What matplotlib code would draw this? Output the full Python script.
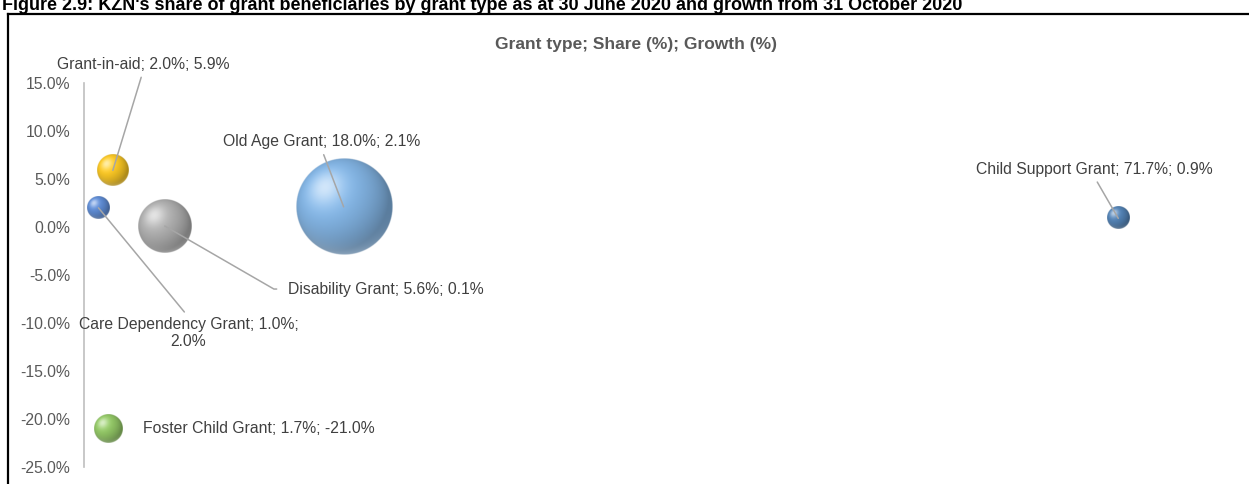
import matplotlib
matplotlib.use("Agg")
import matplotlib.pyplot as plt
import numpy as np
from matplotlib.lines import Line2D
from matplotlib.colors import to_rgb

plt.rcParams['font.family'] = ['Liberation Sans Narrow', 'Liberation Sans', 'DejaVu Sans']

# grant types, share of beneficiaries (%), growth (%), relative bubble size
grants = ["Grant-in-aid", "Care Dependency Grant", "Disability Grant",
          "Old Age Grant", "Child Support Grant", "Foster Child Grant"]
share = [2.0, 1.0, 5.6, 18.0, 71.7, 1.7]
growth = [5.9, 2.0, 0.1, 2.1, 0.9, -21.0]
bubble_size = [11.1, 5.7, 31.6, 100.0, 5.3, 9.1]
colours = ["#F0BF22", "#5A86CC", "#A9A9A9", "#7EAEDC", "#4F7DAE", "#8DC062"]

# label placement: offset of label anchor from bubble centre (px), alignment, leader-line anchor
label_pos = [
    dict(dx=30, dy=106, ha="center", va="center", rel=(0.5, 0.0)),
    dict(dx=90, dy=-125, ha="center", va="center", rel=(0.5, 1.0)),
    dict(dx=123, dy=-63, ha="left", va="center", rel=(0.0, 0.5)),
    dict(dx=-22, dy=65, ha="center", va="center", rel=(0.5, 0.0)),
    dict(dx=-24, dy=49, ha="center", va="center", rel=(0.5, 0.0)),
    dict(dx=34, dy=0, ha="left", va="center", rel=None),
]

W, H = 1249, 484
fig = plt.figure(figsize=(W / 100, H / 100), dpi=100)
ax_l, ax_r, ax_t, ax_b = 84, 1238, 83, 467
ax = fig.add_axes([ax_l / W, 1 - ax_b / H, (ax_r - ax_l) / W, (ax_b - ax_t) / H])

xmin, xmax = 0, 80
ymin, ymax = -25, 15
sx = (ax_r - ax_l) / (xmax - xmin)   # px per x unit
sy = (ax_b - ax_t) / (ymax - ymin)   # px per y unit


def sphere(colour, n=240):
    """RGBA image of a shaded ball."""
    c = np.linspace(-1, 1, n)
    xx, yy = np.meshgrid(c, -c)
    rr = np.sqrt(xx ** 2 + yy ** 2)
    z = np.sqrt(np.clip(1 - rr ** 2, 0, 1))
    light = np.array([-0.4, 0.4, 0.82])
    light /= np.linalg.norm(light)
    diff = np.clip(xx * light[0] + yy * light[1] + z * light[2], 0, 1)
    base = np.array(to_rgb(colour))
    rgb = base[None, None, :] * (0.72 + 0.38 * diff[..., None])
    # soft reflected light along the lower rim
    rim = np.clip(-yy, 0, 1) ** 2 * np.clip(rr, 0, 1) ** 4 * 0.3
    rgb = rgb + rim[..., None] * (1 - rgb)
    spec = diff ** 14 * 0.6
    rgb = rgb + spec[..., None] * (1 - rgb)
    rgb = np.clip(rgb, 0, 1)
    alpha = np.clip((1 - rr) * n / 2.5, 0, 1)
    return np.dstack([rgb, alpha])


for x, y, s, col in zip(share, growth, bubble_size, colours):
    r = 48 * np.sqrt(s / 100)
    rx, ry = r / sx, r / sy
    ax.imshow(sphere(col), extent=[x - rx, x + rx, y - ry, y + ry],
              aspect="auto", zorder=2, interpolation="bilinear")

for name, x, y, p in zip(grants, share, growth, label_pos):
    text = "{}; {:.1f}%; {:.1f}%".format(name, x, y)
    if name == "Care Dependency Grant":
        text = "{}; {:.1f}%;\n{:.1f}%".format(name, x, y)
    kw = dict(xy=(x, y), xycoords="data",
              xytext=(p["dx"] * 0.72, p["dy"] * 0.72), textcoords="offset points",
              ha=p["ha"], va=p["va"], fontsize=11.3, color="#404040",
              multialignment="center", zorder=4, linespacing=1.15)
    if p["rel"] is not None:
        cs = "arc3"
        shrink_a = 2
        if name == "Disability Grant":
            cs = "angle,angleA=0,angleB=-30,rad=0"
            shrink_a = 6
        kw["arrowprops"] = dict(arrowstyle="-", color="#A6A6A6", lw=1.1,
                                relpos=p["rel"], shrinkA=shrink_a, shrinkB=0,
                                connectionstyle=cs)
    ax.annotate(text, **kw)

ax.set_xlim(xmin, xmax)
ax.set_ylim(ymin, ymax)
ax.set_xticks([])
ax.set_yticks(np.arange(-25, 16, 5))
ax.set_yticklabels(["{:.1f}%".format(v) for v in np.arange(-25, 16, 5)])
ax.tick_params(axis="y", length=0, pad=10, labelsize=11.3, labelcolor="#595959")
for side in ["top", "right", "bottom"]:
    ax.spines[side].set_visible(False)
ax.spines["left"].set_color("#BFBFBF")
ax.spines["left"].set_linewidth(1.2)
ax.patch.set_alpha(0)

fig.text(636 / W, 1 - 45 / H, "Grant type; Share (%); Growth (%)",
         ha="center", va="center", fontsize=12.5, fontweight="bold", color="#595959")

fig.text(2 / W, 1 - 9.5 / H,
         "Figure 2.9: KZN's share of grant beneficiaries by grant type as at 30 June 2020 "
         "and growth from 31 October 2020",
         ha="left", va="baseline", fontsize=13, fontweight="bold", color="black")

# frame around the chart
fig.add_artist(Line2D([8 / W, 1.01], [1 - 14 / H, 1 - 14 / H], color="black", lw=1.6))
fig.add_artist(Line2D([8 / W, 8 / W], [-0.01, 1 - 14 / H], color="black", lw=1.6))

plt.savefig("out.png", dpi=100)
